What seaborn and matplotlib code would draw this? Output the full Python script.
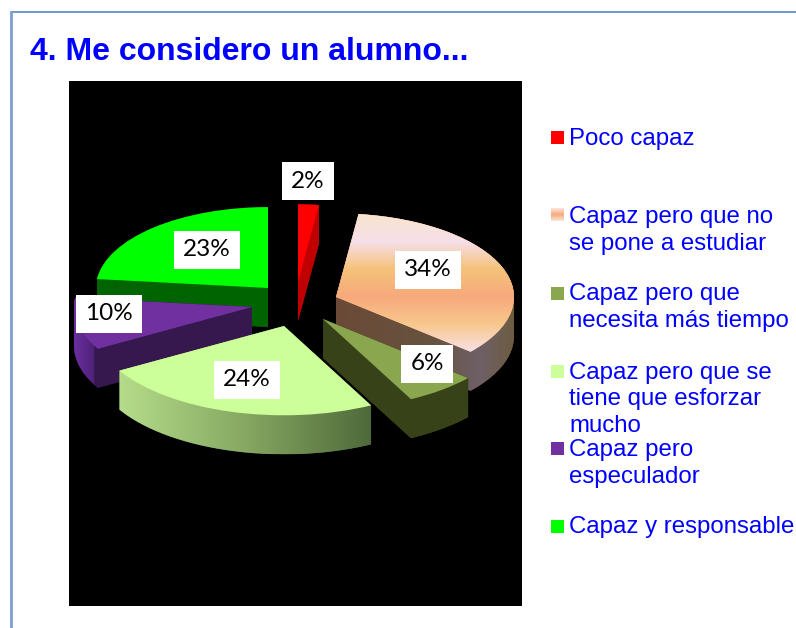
#!/usr/bin/env python3
"""Me considero un alumno... - exploded pie with fake 3D depth"""

import numpy as np
import matplotlib
matplotlib.use('Agg')
import matplotlib.pyplot as plt
import seaborn as sns
from matplotlib.colors import LinearSegmentedColormap
from matplotlib.lines import Line2D
from matplotlib.patches import Polygon, Rectangle

TITLE = '4. Me considero un alumno...'
categories = ['Poco capaz', 'Capaz pero que no\nse pone a estudiar',
              'Capaz pero que\nnecesita más tiempo',
              'Capaz pero que se\ntiene que esforzar\nmucho',
              'Capaz pero\nespeculador', 'Capaz y responsable']
values = [2, 34, 6, 24, 10, 23]
top_colors = ['#ff0000', '#f7a97c', '#8aa64e', '#ccff99', '#7030a0', '#00ff00']
peach_bands = ['#f8e4d0', '#f6dfe8', '#f5c27a', '#f7a97c', '#f8c88e', '#f8e0e6']

# side wall gradients, left to right
side_colors = [
    [(0, '#c00000'), (1, '#c00000')],
    [(0, '#6b4a37'), (0.55, '#66533f'), (0.8, '#6f6068'), (1, '#6d5c40')],
    [(0, '#384219'), (1, '#384219')],
    [(0, '#b5dc8a'), (0.5, '#86a862'), (1, '#4f6a3a')],
    [(0, '#6b2fa0'), (0.11, '#4f2278'), (0.111, '#36184e'), (1, '#36184e')],
    [(0, '#006400'), (1, '#006400')],
]

# layout in page pixels
PAGE_W, PAGE_H = 796, 628
PANEL = (69, 81, 522, 606)
SQUASH = 0.47
DEPTH = 39
apex_x = [298, 336, 323, 284, 252, 268]
apex_y = [282, 297, 319, 326, 307, 288]
radii = [165, 178, 192, 190, 178, 172]
draw_order = [0, 5, 4, 1, 2, 3]
label_x = [308, 428, 427, 247, 109, 207]
label_y = [181, 270, 364, 380, 314, 250]
legend_y = [137, 215, 293, 371, 448, 526]
legend_text_y = [139.5, 230.5, 307.5, 399.5, 463.5, 527.5]


def convex_hull(points):
    """Monotone chain, enough for a wedge swept straight down"""
    pts = sorted(map(tuple, points))
    def half(seq):
        out = []
        for p in seq:
            while len(out) > 1 and ((out[-1][0] - out[-2][0]) * (p[1] - out[-2][1])
                                    - (out[-1][1] - out[-2][1]) * (p[0] - out[-2][0])) <= 0:
                out.pop()
            out.append(p)
        return out[:-1]
    return np.array(half(pts) + half(pts[::-1]))


def draw_slice(ax, i, start, total, zorder):
    """One slice: a pie wedge on top, a gradient wall swept below it"""
    center = (apex_x[i], -apex_y[i] / SQUASH)
    wedges, _ = ax.pie([values[i], total - values[i]], colors=[top_colors[i], 'none'],
                       startangle=90 - 360 * start / total, counterclock=False,
                       center=center, radius=radii[i], wedgeprops={'linewidth': 0})
    wedge = wedges[0]
    wedges[1].remove()
    wedge.set_zorder(zorder + 0.2)

    outline = wedge.get_path().to_polygons()[0]
    swept = np.vstack([outline, outline - [0, DEPTH / SQUASH]])
    hull = Polygon(convex_hull(swept), closed=True, facecolor=side_colors[i][-1][1],
                   linewidth=0, zorder=zorder)
    ax.add_patch(hull)

    cmap = LinearSegmentedColormap.from_list(f'side{i}', side_colors[i])
    x0, x1 = swept[:, 0].min(), swept[:, 0].max()
    y0, y1 = swept[:, 1].min(), swept[:, 1].max()
    img = ax.imshow(np.linspace(0, 1, 256)[None, :], cmap=cmap, aspect='auto',
                    extent=(x0, x1, y0, y1), zorder=zorder + 0.1)
    img.set_clip_path(hull)

    if i == 1:
        # banded top of the peach slice
        bands = sns.blend_palette(peach_bands, as_cmap=True)
        top = ax.imshow(np.linspace(0, 1, 256)[:, None], cmap=bands, aspect='auto',
                        extent=(outline[:, 0].min(), outline[:, 0].max(),
                                outline[:, 1].min(), outline[:, 1].max()),
                        zorder=zorder + 0.3)
        top.set_clip_path(wedge)


def main():
    sns.set_theme(style='white')
    plt.rcParams['font.family'] = ['Liberation Sans', 'DejaVu Sans']

    fig = plt.figure(figsize=(PAGE_W / 100, PAGE_H / 100), dpi=100, facecolor='white')

    left, top, right, bottom = PANEL
    ax = fig.add_axes([left / PAGE_W, 1 - bottom / PAGE_H,
                       (right - left) / PAGE_W, (bottom - top) / PAGE_H])

    total = sum(values)
    starts = np.cumsum([0] + values[:-1])
    for n, i in enumerate(draw_order):
        draw_slice(ax, i, starts[i], total, 2 + n)

    ax.set_aspect('auto')
    ax.set_xlim(left, right)
    ax.set_ylim(-bottom / SQUASH, -top / SQUASH)
    ax.set_frame_on(True)
    ax.set_facecolor('black')
    ax.set_xticks([])
    ax.set_yticks([])
    sns.despine(ax=ax, left=True, bottom=True)

    # everything else is placed in page pixels
    page = fig.add_axes([0, 0, 1, 1], zorder=5)
    page.set_xlim(0, PAGE_W)
    page.set_ylim(PAGE_H, 0)
    page.axis('off')

    page.add_line(Line2D([11, PAGE_W], [12, 12], color='#5b86c0', lw=1.2))
    page.add_line(Line2D([11, 11], [12, PAGE_H], color='#7a9fd0', lw=2))

    page.text(30, 52, TITLE, color='#0000ff', fontsize=23, fontweight='bold',
              va='center', ha='left')

    for i, v in enumerate(values):
        page.text(label_x[i], label_y[i], f'{v}%', fontsize=17.5, color='black',
                  family=['Lato', 'DejaVu Sans'], ha='center', va='center',
                  bbox={'facecolor': 'white', 'edgecolor': 'none', 'pad': 6.5})

    for i, name in enumerate(categories):
        y = legend_y[i]
        if i == 1:
            bands = sns.blend_palette(['#fbe6dc', '#f7a97c', '#fbe6dc'], as_cmap=True)
            page.imshow(np.linspace(0, 1, 64)[:, None], cmap=bands, aspect='auto',
                        extent=(551, 564, y + 6.5, y - 6.5))
        else:
            page.add_patch(Rectangle((551, y - 6.5), 13, 13, facecolor=top_colors[i],
                                     linewidth=0))
        page.text(569, legend_text_y[i], name, color='#0000ff', fontsize=17.3,
                  va='center', ha='left', linespacing=1.27)

    page.set_aspect('auto')
    page.set_xlim(0, PAGE_W)
    page.set_ylim(PAGE_H, 0)

    fig.savefig('out.png', dpi=100, facecolor='white')


if __name__ == '__main__':
    main()
